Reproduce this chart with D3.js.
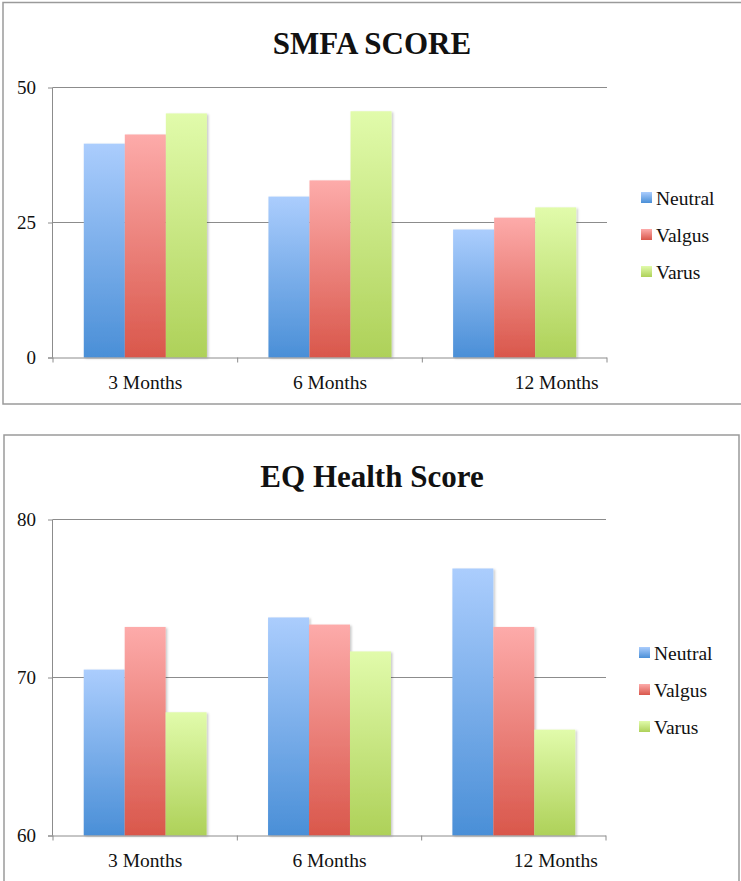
<!DOCTYPE html>
<html>
<head>
<meta charset="utf-8">
<script src="https://cdn.jsdelivr.net/npm/d3@7"></script>
<style>
  html, body { margin: 0; padding: 0; background: #fff; }
  svg { display: block; }
  text { font-family: "Liberation Serif", "DejaVu Serif", serif; fill: #111; }
</style>
</head>
<body>
<svg id="chart" width="741" height="881"></svg>
<script>
// ---- data ----
const categories = ["3 Months", "6 Months", "12 Months"];
const seriesNames = ["Neutral", "Valgus", "Varus"];

const smfaNeutral = [39.6, 29.8, 23.7];
const smfaValgus  = [41.3, 32.8, 25.9];
const smfaVarus   = [45.2, 45.6, 27.8];
const smfaTicks   = [0, 25, 50];

const eqNeutral = [70.5, 73.8, 76.9];
const eqValgus  = [73.2, 73.35, 73.2];
const eqVarus   = [67.8, 71.65, 66.7];
const eqTicks   = [60, 70, 80];

// colour ramps per series: [top, bottom]
const seriesColors = {
  Neutral: ["#abcdfd", "#4a8fd7"],
  Valgus:  ["#fdabaa", "#d9574b"],
  Varus:   ["#e1fbab", "#aed159"]
};

const svg = d3.select("#chart");
const defs = svg.append("defs");

seriesNames.forEach(name => {
  const g = defs.append("linearGradient")
    .attr("id", "grad-" + name)
    .attr("x1", 0).attr("y1", 0).attr("x2", 0).attr("y2", 1);
  g.append("stop").attr("offset", "0%").attr("stop-color", seriesColors[name][0]);
  g.append("stop").attr("offset", "100%").attr("stop-color", seriesColors[name][1]);
});

const shadow = defs.append("filter").attr("id", "barShadow")
  .attr("x", "-10%").attr("y", "-5%").attr("width", "130%").attr("height", "115%");
shadow.append("feDropShadow")
  .attr("dx", 1.5).attr("dy", 1).attr("stdDeviation", 1.2)
  .attr("flood-color", "#000").attr("flood-opacity", 0.22);

function drawChart(opts) {
  const { frame, title, titleY, plot, domain, ticks, values, legendX, legendY, legendStep } = opts;
  const root = svg.append("g");

  // outer frame
  root.append("rect")
    .attr("x", frame.x).attr("y", frame.y)
    .attr("width", frame.w).attr("height", frame.h)
    .attr("fill", "#fff").attr("stroke", "#9a9a9a").attr("stroke-width", 1.5);

  // title
  root.append("text")
    .attr("x", 372).attr("y", titleY)
    .attr("text-anchor", "middle")
    .attr("font-size", 31).attr("font-weight", "bold")
    .text(title);

  const x = d3.scaleBand().domain(categories).range([plot.x0, plot.x1]);
  const y = d3.scaleLinear().domain(domain).range([plot.y0, plot.y1]);

  // gridlines
  root.append("g").selectAll("line").data(ticks.filter(t => t !== domain[0])).join("line")
    .attr("x1", plot.x0).attr("x2", plot.x1)
    .attr("y1", d => y(d)).attr("y2", d => y(d))
    .attr("stroke", "#8c8c8c").attr("stroke-width", 1);

  // y axis
  const yAxis = root.append("g")
    .attr("transform", `translate(${plot.x0},0)`)
    .call(d3.axisLeft(y).tickValues(ticks).tickSize(5).tickPadding(12).tickFormat(d3.format("d")));
  yAxis.select(".domain").attr("stroke", "#8c8c8c").attr("d", `M-0.5,${plot.y0}V${plot.y1}`);
  yAxis.selectAll(".tick line").attr("stroke", "#8c8c8c");
  yAxis.selectAll(".tick text")
    .attr("font-family", "Liberation Serif, serif")
    .attr("font-size", 19).attr("fill", "#111");

  // bars
  const inner = d3.scaleBand().domain(seriesNames)
    .range([0, x.bandwidth()]).paddingOuter(0.75).paddingInner(0);

  const groups = root.append("g").selectAll("g").data(categories).join("g")
    .attr("transform", d => `translate(${x(d)},0)`);

  groups.selectAll("rect")
    .data((c, i) => seriesNames.map(s => ({ s, v: values[s][i] })))
    .join("rect")
    .attr("x", d => inner(d.s))
    .attr("width", inner.bandwidth())
    .attr("y", d => y(d.v))
    .attr("height", d => y(domain[0]) - y(d.v))
    .attr("fill", d => `url(#grad-${d.s})`)
    .attr("filter", "url(#barShadow)");

  // x axis
  const xAxis = root.append("g")
    .attr("transform", `translate(0,${plot.y0})`);
  xAxis.append("line")
    .attr("x1", plot.x0 - 5).attr("x2", plot.x1)
    .attr("y1", 0.5).attr("y2", 0.5)
    .attr("stroke", "#8c8c8c");
  const bounds = [plot.x0, ...categories.map(c => x(c) + x.bandwidth())];
  xAxis.selectAll("line.tk").data(bounds).join("line").attr("class", "tk")
    .attr("x1", d => d).attr("x2", d => d)
    .attr("y1", 0).attr("y2", 5)
    .attr("stroke", "#8c8c8c");
  xAxis.selectAll("text").data(categories).join("text")
    .attr("x", (d, i) => x(d) + x.bandwidth() / 2 + (i === categories.length - 1 ? 42 : 0))
    .attr("y", 31)
    .attr("text-anchor", "middle")
    .attr("font-size", 19.5)
    .text(d => d);

  // legend
  const leg = root.append("g").selectAll("g").data(seriesNames).join("g")
    .attr("transform", (d, i) => `translate(${legendX},${legendY + i * legendStep})`);
  leg.append("rect")
    .attr("x", 0).attr("y", -6).attr("width", 11).attr("height", 11)
    .attr("fill", d => `url(#grad-${d})`);
  leg.append("text")
    .attr("x", 15).attr("y", 6.5)
    .attr("font-size", 19.5)
    .text(d => d);
}

drawChart({
  frame: { x: 3, y: 2.5, w: 745, h: 401.5 },
  title: "SMFA SCORE",
  titleY: 54,
  plot: { x0: 53, x1: 607, y0: 357.5, y1: 87.5 },
  domain: [0, 50],
  ticks: smfaTicks,
  values: { Neutral: smfaNeutral, Valgus: smfaValgus, Varus: smfaVarus },
  legendX: 641, legendY: 198, legendStep: 37
});

drawChart({
  frame: { x: 4, y: 435, w: 735, h: 460 },
  title: "EQ Health Score",
  titleY: 487,
  plot: { x0: 53, x1: 606, y0: 835.5, y1: 519.5 },
  domain: [60, 80],
  ticks: eqTicks,
  values: { Neutral: eqNeutral, Valgus: eqValgus, Varus: eqVarus },
  legendX: 639, legendY: 653, legendStep: 37
});
</script>
</body>
</html>
